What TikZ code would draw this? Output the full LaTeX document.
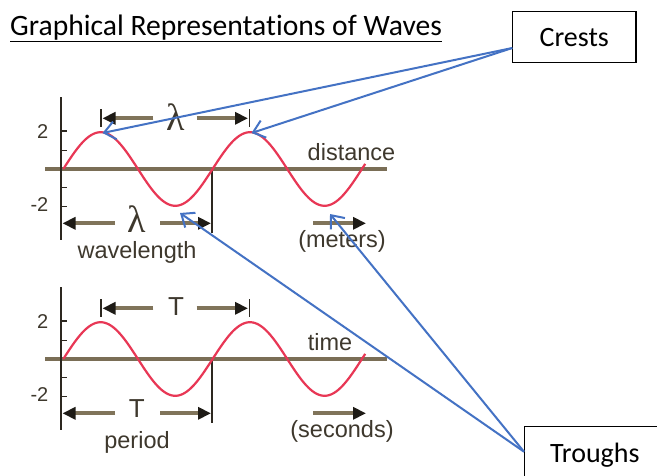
\documentclass[tikz,border=0pt]{standalone}
\usepackage{fontspec}
\setmainfont[Ligatures=NoCommon]{Carlito}
\newfontfamily\chartfont{Liberation Sans}
\newfontfamily\greekfont{Liberation Serif}
\usetikzlibrary{arrows.meta}
\definecolor{axiscol}{RGB}{122,110,86}
\definecolor{vaxiscol}{RGB}{45,40,32}
\definecolor{shaftcol}{RGB}{128,116,90}
\definecolor{headcol}{RGB}{30,27,22}
\definecolor{wavecol}{RGB}{232,55,85}
\definecolor{linkcol}{RGB}{68,114,196}
\definecolor{labcol}{RGB}{62,56,45}
\newcommand\wavegraph[8]{%
\begin{scope}[shift={(0,#2)}]
 \draw[haxis] (45,169) -- (387,169);
 \draw[vaxis] (60.7,97) -- (60.7,240);
 \foreach \t in {131,150.7,187.3,206.7} \draw[vaxis, line width=1.4pt] (60.7,\t) -- (67,\t);
 \draw[vaxis] (212.3,169) -- (212.3,233);
 \draw[wave] plot[domain=0:728, samples=160, smooth] ({63.3+\x/360*149.3},{169-36.8*sin(\x)});
 \node[chartlab, font=\chartfont\fontsize{20}{22}\selectfont, anchor=east] (#1-p2) at (48.5,132) {2};
 \node[chartlab, font=\chartfont\fontsize{20}{22}\selectfont, anchor=east] (#1-m2) at (48.5,205) {-2};
 \draw[dimbar] (100.7,109) -- (100.7,127.3);
 \draw[dimbar] (249.3,109) -- (249.3,127.3);
 \draw[dimarrow] (153.3,118.3) -- (102.5,118.3);
 \draw[dimarrow] (196.7,118.3) -- (248,118.3);
 \node[symlab, font=#3] (#1-symtop) at (176,117) {#4};
 \draw[dimarrow] (115,223.3) -- (62.5,223.3);
 \draw[dimarrow] (160,223.3) -- (211,223.3);
 \node[symlab, font=#3] (#1-symbot) at (136.7,219) {#4};
 \draw[dimarrow] (313.3,223.3) -- (366,223.3);
 \node[chartlab] (#1-name) at (137,252.5) {#5};
 \node[chartlab] (#1-unit) at (342,241.7) {#6};
 \node[chartlab] (#1-axis) at (#8,151.7) {#7};
\end{scope}}
\begin{document}
\begin{tikzpicture}[x=1pt,y=-1pt,
 haxis/.style={draw=axiscol, line width=3.2pt},
 vaxis/.style={draw=vaxiscol, line width=1.8pt},
 dimarrow/.style={draw=shaftcol, line width=3.8pt, -{Triangle[length=13pt,width=12pt,color=headcol]}},
 dimbar/.style={draw=vaxiscol, line width=1.6pt},
 wave/.style={draw=wavecol, line width=2.2pt},
 chartlab/.style={font=\chartfont\fontsize{23.5}{26}\selectfont, text=labcol, inner sep=0pt},
 symlab/.style={text=labcol, inner sep=0pt},
 callout/.style={draw=black, line width=1.3pt, font=\fontsize{28}{30}\selectfont, inner sep=0pt},
 link/.style={draw=linkcol, line width=2pt, -{Straight Barb[length=11pt,width=18pt]}},
 ]
\path[use as bounding box, clip] (0,0) rectangle (657,475);
\fill[white] (0,0) rectangle (657,475);
\node[anchor=base west, inner sep=0pt, font=\fontsize{29.6}{32}\selectfont] (title) at (10,35.5) {\underline{Graphical Representations of Waves}};
\wavegraph{top}{0}{\greekfont\fontsize{38}{40}\selectfont}{λ}{wavelength}{(meters)}{distance}{351.5}
\wavegraph{bot}{190}{\chartfont\fontsize{26}{28}\selectfont}{T}{period}{(seconds)}{time}{330}
\node[callout, minimum width=123.7pt, minimum height=51pt] (crests) at (574.2,37.2) {Crests};
\node[callout, minimum width=141pt, minimum height=57pt] (troughs) at (594.8,455.2) {Troughs};
\coordinate (cstart) at (512.3,48);
\coordinate (tstart) at (524,451.7);
\coordinate (crest1) at (102.5,133);
\coordinate (crest2) at (251.5,133);
\coordinate (trough1) at (180,213);
\coordinate (trough2) at (330,214);
\draw[link] (cstart) -- (crest1);
\draw[link] (cstart) -- (crest2);
\draw[link] (tstart) -- (trough1);
\draw[link] (tstart) -- (trough2);
\end{tikzpicture}
\end{document}
